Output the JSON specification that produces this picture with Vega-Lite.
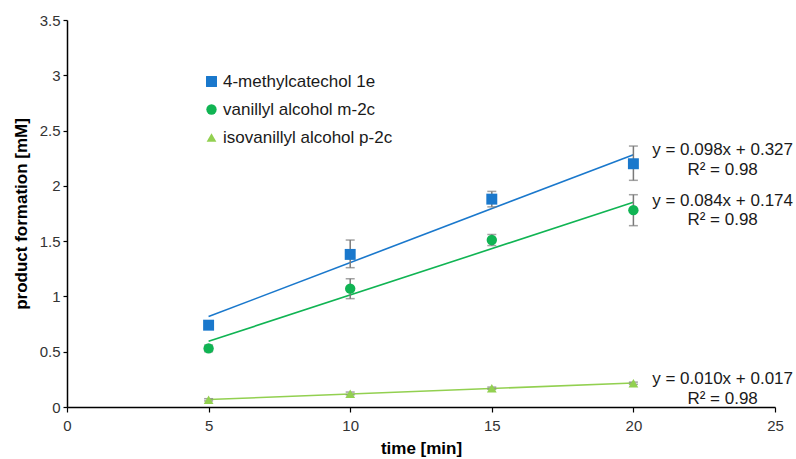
{
  "$schema": "https://vega.github.io/schema/vega-lite/v6.json",
  "width": 708,
  "height": 387,
  "autosize": "none",
  "padding": {"left": 67, "top": 20, "right": 21, "bottom": 52},
  "background": "white",
  "config": {
    "view": {"stroke": null},
    "font": "Liberation Sans",
    "axis": {
      "grid": false,
      "labelFlush": false,
      "domainColor": "#000000",
      "domainWidth": 1.5,
      "tickColor": "#000000",
      "tickWidth": 1.2,
      "tickSize": 5,
      "labelFont": "Liberation Sans",
      "labelFontSize": 15,
      "labelColor": "#333333",
      "titleFont": "Liberation Sans",
      "titleFontSize": 17,
      "titleFontWeight": "bold",
      "titleColor": "#000000"
    },
    "legend": {
      "labelFont": "Liberation Sans",
      "labelFontSize": 17,
      "labelColor": "#1a1a1a",
      "labelLimit": 400
    }
  },
  "datasets": {
    "pts": [
      {"t": 5, "y": 0.74, "lo": 0.71, "hi": 0.77, "s": "4-methylcatechol 1e"},
      {"t": 10, "y": 1.38, "lo": 1.26, "hi": 1.51, "s": "4-methylcatechol 1e"},
      {"t": 15, "y": 1.88, "lo": 1.81, "hi": 1.95, "s": "4-methylcatechol 1e"},
      {"t": 20, "y": 2.2, "lo": 2.05, "hi": 2.36, "s": "4-methylcatechol 1e"},
      {"t": 5, "y": 0.53, "lo": 0.5, "hi": 0.56, "s": "vanillyl alcohol m-2c"},
      {"t": 10, "y": 1.07, "lo": 0.98, "hi": 1.16, "s": "vanillyl alcohol m-2c"},
      {"t": 15, "y": 1.51, "lo": 1.46, "hi": 1.56, "s": "vanillyl alcohol m-2c"},
      {"t": 20, "y": 1.78, "lo": 1.64, "hi": 1.92, "s": "vanillyl alcohol m-2c"},
      {"t": 5, "y": 0.065, "lo": 0.055, "hi": 0.075, "s": "isovanillyl alcohol p-2c"},
      {"t": 10, "y": 0.12, "lo": 0.11, "hi": 0.135, "s": "isovanillyl alcohol p-2c"},
      {"t": 15, "y": 0.17, "lo": 0.16, "hi": 0.18, "s": "isovanillyl alcohol p-2c"},
      {"t": 20, "y": 0.215, "lo": 0.205, "hi": 0.225, "s": "isovanillyl alcohol p-2c"}
    ],
    "eq": [
      {"x": 23.15, "y": 2.32, "label": "y = 0.098x + 0.327"},
      {"x": 23.15, "y": 2.145, "label": "R² = 0.98"},
      {"x": 23.15, "y": 1.865, "label": "y = 0.084x + 0.174"},
      {"x": 23.15, "y": 1.693, "label": "R² = 0.98"},
      {"x": 23.15, "y": 0.253, "label": "y = 0.010x + 0.017"},
      {"x": 23.15, "y": 0.072, "label": "R² = 0.98"}
    ]
  },
  "layer": [
    {
      "data": {"name": "pts"},
      "transform": [{"regression": "y", "on": "t", "groupby": ["s"]}],
      "mark": {"type": "line", "strokeWidth": 1.6},
      "encoding": {
        "x": {"field": "t", "type": "quantitative", "scale": {"domain": [0, 25], "nice": false, "padding": 0, "zero": false},
          "axis": {"values": [0, 5, 10, 15, 20, 25], "title": "time [min]", "titlePadding": 7, "labelPadding": 6}},
        "y": {"field": "y", "type": "quantitative", "scale": {"domain": [0, 3.5], "nice": false, "padding": 0},
          "axis": {"values": [0, 0.5, 1, 1.5, 2, 2.5, 3, 3.5], "format": "~g", "title": "product formation [mM]", "titlePadding": 9, "labelPadding": 3, "tickSize": 4}},
        "color": {"field": "s", "type": "nominal",
          "scale": {"domain": ["4-methylcatechol 1e", "vanillyl alcohol m-2c", "isovanillyl alcohol p-2c"], "range": ["#1a78cc", "#10b453", "#92d050"]},
          "legend": {"title": null, "orient": "none", "legendX": 136, "legendY": 53, "padding": 0, "rowPadding": 10, "labelOffset": 3, "symbolSize": 70, "symbolOpacity": 1, "symbolStrokeWidth": 0}}
      }
    },
    {
      "data": {"name": "pts"},
      "mark": {"type": "rule", "color": "#7a7a7a", "strokeWidth": 1.5},
      "encoding": {
        "x": {"field": "t", "type": "quantitative"},
        "y": {"field": "lo", "type": "quantitative"},
        "y2": {"field": "hi"}
      }
    },
    {
      "data": {"name": "pts"},
      "mark": {"type": "tick", "orient": "horizontal", "color": "#7a7a7a", "size": 9, "thickness": 1.5},
      "encoding": {
        "x": {"field": "t", "type": "quantitative"},
        "y": {"field": "lo", "type": "quantitative"}
      }
    },
    {
      "data": {"name": "pts"},
      "mark": {"type": "tick", "orient": "horizontal", "color": "#7a7a7a", "size": 9, "thickness": 1.5},
      "encoding": {
        "x": {"field": "t", "type": "quantitative"},
        "y": {"field": "hi", "type": "quantitative"}
      }
    },
    {
      "data": {"name": "pts"},
      "mark": {"type": "point", "filled": true, "opacity": 1},
      "encoding": {
        "x": {"field": "t", "type": "quantitative"},
        "y": {"field": "y", "type": "quantitative"},
        "color": {"field": "s", "type": "nominal"},
        "shape": {"field": "s", "type": "nominal",
          "scale": {"domain": ["4-methylcatechol 1e", "vanillyl alcohol m-2c", "isovanillyl alcohol p-2c"], "range": ["square", "circle", "triangle-up"]},
          "legend": {"title": null, "orient": "none", "legendX": 136, "legendY": 53, "padding": 0, "rowPadding": 10, "labelOffset": 3, "symbolSize": 70, "symbolOpacity": 1, "symbolStrokeWidth": 0}},
        "size": {"field": "s", "type": "nominal", "legend": null,
          "scale": {"domain": ["4-methylcatechol 1e", "vanillyl alcohol m-2c", "isovanillyl alcohol p-2c"], "range": [120, 95, 55]}}
      }
    },
    {
      "data": {"name": "eq"},
      "mark": {"type": "text", "align": "center", "baseline": "middle", "fontSize": 17, "color": "#1a1a1a", "font": "Liberation Sans"},
      "encoding": {
        "x": {"field": "x", "type": "quantitative"},
        "y": {"field": "y", "type": "quantitative"},
        "text": {"field": "label"}
      }
    }
  ]
}
